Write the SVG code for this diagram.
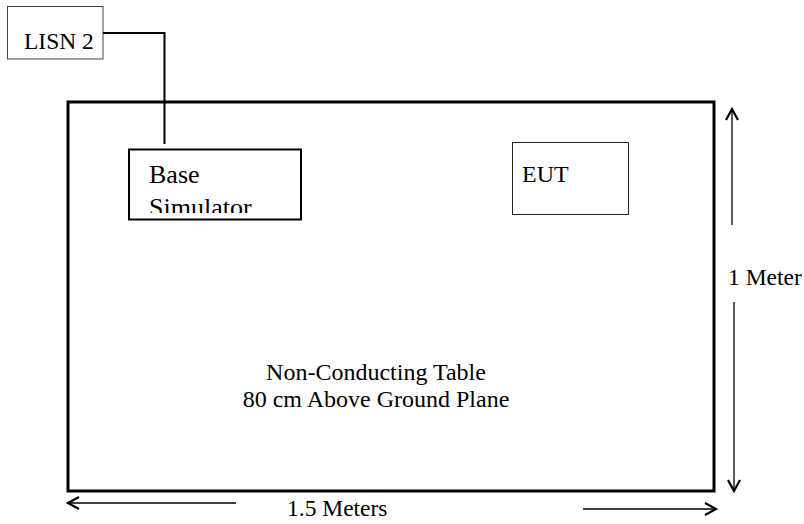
<svg xmlns="http://www.w3.org/2000/svg" width="804" height="524" viewBox="0 0 804 524">
<style>
text{font-family:"Liberation Serif","Times New Roman",serif;fill:#000}
.t{font-size:23.5px}
.dim{stroke:#000;stroke-width:1.3;fill:none}
.head{stroke:#000;stroke-width:2.2;fill:none;stroke-linecap:butt}
</style>
<defs>
<clipPath id="bc"><rect x="130" y="150" width="171" height="63"/></clipPath>
</defs>
<rect width="804" height="524" fill="#fff"/>
<g id="table">
<rect x="68" y="102" width="646" height="389" fill="none" stroke="#000" stroke-width="3"/>
<text x="376" y="380" font-size="24" text-anchor="middle">Non-Conducting Table</text>
<text x="376" y="407" font-size="24" text-anchor="middle">80 cm Above Ground Plane</text>
</g>
<g id="lisn2">
<rect x="7.5" y="6.5" width="95.5" height="52.5" fill="#fff" stroke="#444" stroke-width="1"/>
<text class="t" x="24" y="49">LISN 2</text>
</g>
<g id="base">
<rect x="129" y="149.5" width="172" height="70" fill="#fff" stroke="#000" stroke-width="2"/>
<g clip-path="url(#bc)">
<text x="149" y="183" font-size="26">Base</text>
<text x="149" y="216" font-size="26">Simulator</text>
</g>
</g>
<g id="eut">
<rect x="512.5" y="142.5" width="116" height="72" fill="#fff" stroke="#222" stroke-width="1"/>
<text x="522" y="182" font-size="24">EUT</text>
</g>
<g id="connectors">
<polyline points="103,33 164.5,33 164.5,144" fill="none" stroke="#000" stroke-width="2"/>
</g>
<g id="dimensions">
<line class="dim" x1="732" y1="109" x2="732" y2="225"/>
<polyline class="head" points="726,120 732,109 738,120"/>
<line class="dim" x1="734" y1="302" x2="734" y2="491"/>
<polyline class="head" points="728,480 734,491 740,480"/>
<line class="dim" x1="68" y1="503" x2="236" y2="503"/>
<polyline class="head" points="79,497 68,503 79,509"/>
<line class="dim" x1="583" y1="509" x2="716" y2="509"/>
<polyline class="head" points="705,503 716,509 705,515"/>
<text class="t" x="728" y="285">1 Meter</text>
<text class="t" x="287" y="516">1.5 Meters</text>
</g>
</svg>
